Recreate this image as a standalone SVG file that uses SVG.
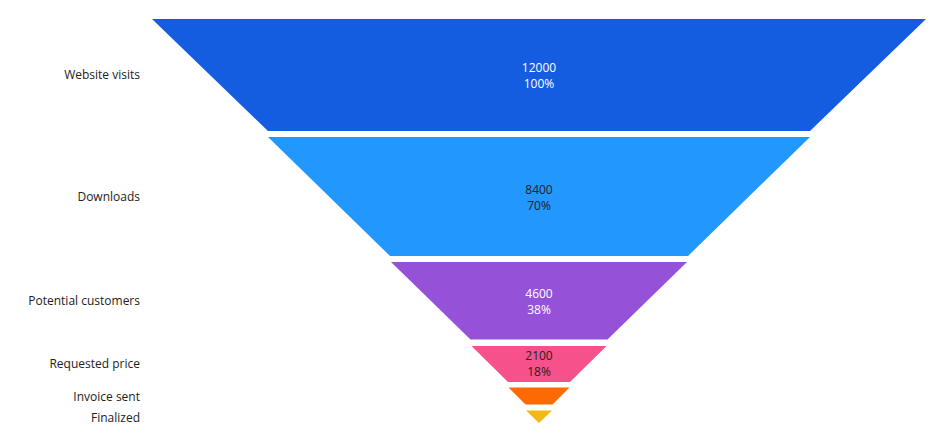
<svg xmlns="http://www.w3.org/2000/svg" width="952" height="441" viewBox="0 0 952 441">
<style>
.l{font-family:"Open Sans","Liberation Sans",sans-serif;font-size:12px;fill:#222;text-anchor:end}
.v{font-family:"Open Sans","Liberation Sans",sans-serif;font-size:12px;text-anchor:middle}
.w{fill:#fff}.d{fill:#222}
</style>
<rect width="952" height="441" fill="#fff"/>
<g id="n1"><polygon points="152,19 926,19 810,131 268,131" fill="#155de0"/><text class="v w" x="539" y="72">12000</text><text class="v w" x="539" y="88">100%</text><text class="l" x="140" y="79">Website visits</text></g>
<g id="n2"><polygon points="268,137 810,137 688,256 390,256" fill="#2297fe"/><text class="v d" x="539" y="194">8400</text><text class="v d" x="539" y="210">70%</text><text class="l" x="140" y="201">Downloads</text></g>
<g id="n3"><polygon points="391,262 687,262 607.5,339.5 470.5,339.5" fill="#9552d8"/><text class="v w" x="539" y="298">4600</text><text class="v w" x="539" y="314">38%</text><text class="l" x="140" y="305">Potential customers</text></g>
<g id="n4"><polygon points="471.5,346 606.5,346 570,382 508,382" fill="#f6518a"/><text class="v d" x="539" y="360">2100</text><text class="v d" x="539" y="376">18%</text><text class="l" x="140" y="368">Requested price</text></g>
<g id="n5"><polygon points="508.5,387.5 569.5,387.5 552.5,404.5 525.5,404.5" fill="#fd6a02"/><text class="l" x="140" y="401">Invoice sent</text></g>
<g id="n6"><polygon points="526,410.5 552,410.5 539,423" fill="#f2b813"/><text class="l" x="140" y="422">Finalized</text></g>
<g id="connectors"/>
</svg>
